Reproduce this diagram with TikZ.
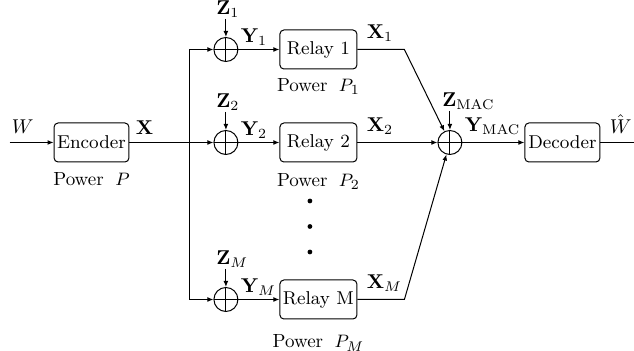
\documentclass[tikz,border=0pt]{standalone}
\usetikzlibrary{
  arrows.meta,
  positioning,
  calc
}
\tikzset{
  block/.style={
    rectangle, rounded corners=2pt,
    draw, line width=0.5pt,
    minimum width=36.5pt, minimum height=19.5pt,
    inner sep=1.5pt, font=\fontsize{9.3}{11}\selectfont
  },
  relay/.style={
    block, minimum width=38.5pt
  },
  adder/.style={
    circle, draw, line width=0.5pt,
    minimum size=12pt, inner sep=0pt,
    path picture={
      \draw[line width=0.5pt]
        (path picture bounding box.north) -- (path picture bounding box.south)
        (path picture bounding box.west) -- (path picture bounding box.east);
    }
  },
  lbl/.style={inner sep=0.5pt},
  pwr/.style={inner sep=0pt, font=\fontsize{9.5}{11}\selectfont},
  dot/.style={circle, fill, inner sep=0pt, minimum size=2.4pt},
  arr/.style={-{Latex[length=3pt, width=2.4pt]}, line width=0.5pt}
}
\begin{document}
\begin{tikzpicture}

    \useasboundingbox (-45.75pt,-104.25pt) rectangle (271.25pt,71.25pt);

    %% ---- Source and encoder -----------------------------------------
    \node[block] (enc) at (0,0) {Encoder};
    \node[pwr, below=5pt of enc] (penc) {Power $\;P$};
    \coordinate[left=22pt of enc] (src);
    \coordinate[right=30pt of enc] (split);
    \node[lbl, above right=4pt and 0.5pt of src] (w) {$W$};
    \node[lbl, above right=3.5pt and 2.5pt of enc.east] (x) {$\mathbf{X}$};

    %% ---- Noisy links to the relays ----------------------------------
    \node[adder, right=42pt of enc] (p2) {};
    \node[adder, above=34pt of p2]  (p1) {};
    \node[adder, below=66pt of p2]  (pM) {};

    \node[relay, right=20.5pt of p1] (r1) {Relay 1};
    \node[relay, right=20.5pt of p2] (r2) {Relay 2};
    \node[relay, right=20.5pt of pM] (rM) {Relay M};

    \node[pwr, below=4.5pt of r1] (pw1) {Power $\;P_1$};
    \node[pwr, below=5.5pt of r2] (pw2) {Power $\;P_2$};
    \node[pwr, below=7.5pt of rM] (pwM) {Power $\;P_M$};

    \foreach \n in {1,2,M}{
      \node[lbl, above right=9pt and -5.5pt of p\n.north] (z\n) {$\mathbf{Z}_\n$};
      \node[lbl, above right=1.5pt and 0.5pt of p\n.east]  (y\n) {$\mathbf{Y}_\n$};
      \node[lbl, above right=3.5pt and 4pt of r\n.east]    (x\n) {$\mathbf{X}_\n$};
    }

    \foreach \i in {1,2,3}
      \node[dot] (dot\i) at ($(r2.center)+(-4.25pt,{-16.5pt-12.75pt*\i})$) {};

    %% ---- MAC and decoder --------------------------------------------
    \node[adder, right=40pt of r2] (mac) {};
    \node[block, minimum width=37.5pt, right=31pt of mac] (dec) {Decoder};
    \coordinate[right=20.5pt of dec] (sink);
    \coordinate[right=23.5pt of r1] (k1);
    \coordinate[right=23.5pt of rM] (kM);

    \node[lbl, above right=9.5pt and -4.5pt of mac.north] (zmac) {$\mathbf{Z}_{\mathrm{MAC}}$};
    \node[lbl, above right=3.5pt and 0.5pt of mac.east] (ymac) {$\mathbf{Y}_{\mathrm{MAC}}$};
    \node[lbl, above right=4pt and 4pt of dec.east] (what) {$\hat{W}$};

    %% ---- Connectors -------------------------------------------------
    \draw[arr] (src) -- (enc);
    \draw[arr] (enc) -- (p2);
    \draw[arr] (split) |- (p1);
    \draw[arr] (split) |- (pM);
    \foreach \n in {1,2,M}{
      \draw[arr] (p\n) -- (r\n);
      \draw[arr] (z\n.south -| p\n) -- (p\n);
    }
    \draw[arr] (r1) -- (k1) -- (mac);
    \draw[arr] (r2) -- (mac);
    \draw[arr] (rM) -- (kM) -- (mac);
    \draw[arr] (zmac.south -| mac) -- (mac);
    \draw[arr] (mac) -- (dec);
    \draw[arr] (dec) -- (sink);

\end{tikzpicture}
\end{document}
